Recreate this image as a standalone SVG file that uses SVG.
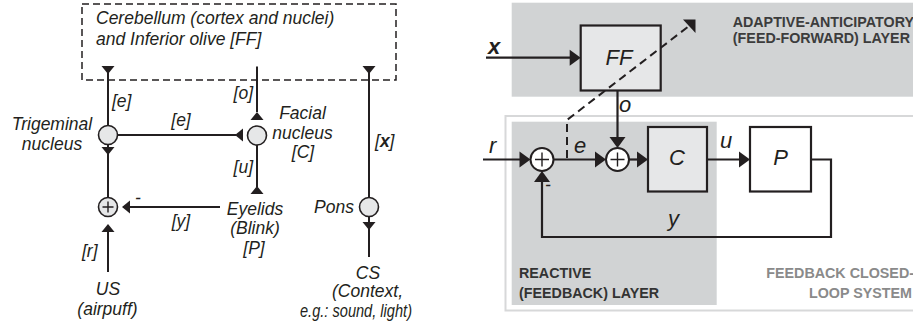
<svg xmlns="http://www.w3.org/2000/svg" width="913" height="328" viewBox="0 0 913 328">
<style>
.ln{stroke:#231f20;stroke-width:2;fill:none}
.ln2{stroke:#231f20;stroke-width:2.2;fill:none}
.dash{stroke:#231f20;stroke-width:2;fill:none;stroke-dasharray:8 5}
.lt{font-family:"Liberation Sans",Arial,sans-serif;font-style:italic;font-size:17.5px;fill:#231f20}
.rt{font-family:"Liberation Sans",Arial,sans-serif;font-style:italic;font-size:22px;fill:#231f20}
.bl{font-family:"Liberation Sans",Arial,sans-serif;font-weight:bold;font-size:14.3px}
.mid{text-anchor:middle}
.end{text-anchor:end}
.nc{fill:#e6e7e8;stroke:#231f20;stroke-width:1.6}
.sc{fill:#ffffff;stroke:#231f20;stroke-width:2}
.pl{stroke:#231f20;stroke-width:1.4;fill:none}
.tri{fill:#231f20}
.box{stroke:#231f20;stroke-width:2.2}
.lay{fill:#d1d3d4}
</style>
<defs>
<path id="a1" d="M0,0 L-8,-6.5 L-8,6.5 Z"/>
<path id="a2" d="M0,0 L-11,-8 L-11,8 Z"/>
</defs>

<!-- LEFT DIAGRAM -->
<g id="cerebellum">
<rect x="82" y="4" width="314" height="76" fill="none" stroke="#231f20" stroke-width="1.5" stroke-dasharray="7 4"/>
<text class="lt" x="96" y="24">Cerebellum (cortex and nuclei)</text>
<text class="lt" x="96" y="44.5">and Inferior olive [FF]</text>
</g>
<g id="trigeminal">
<circle class="nc" cx="108" cy="135" r="9.5"/>
<text class="lt mid" x="52" y="129.5">Trigeminal</text>
<text class="lt mid" x="52" y="150">nucleus</text>
</g>
<g id="facial">
<circle class="nc" cx="257" cy="135.5" r="9.5"/>
<text class="lt mid" x="302.5" y="119">Facial</text>
<text class="lt mid" x="302.5" y="139">nucleus</text>
<text class="lt mid" x="303" y="157.5">[C]</text>
</g>
<g id="sum-left">
<circle class="nc" cx="108" cy="207" r="9.5"/>
<path class="pl" d="M102.5,207 H113.5 M108,201.5 V212.5"/>
</g>
<g id="eyelids">
<text class="lt mid" x="255" y="215">Eyelids</text>
<text class="lt mid" x="255" y="233.5">(Blink)</text>
<text class="lt mid" x="254" y="253.5">[P]</text>
</g>
<g id="pons">
<circle class="nc" cx="369" cy="207" r="9.5"/>
<text class="lt" x="314" y="213">Pons</text>
</g>
<g id="us">
<text class="lt mid" x="108" y="295">US</text>
<text class="lt mid" x="107.5" y="315">(airpuff)</text>
</g>
<g id="cs">
<text class="lt mid" x="368" y="278.5">CS</text>
<text class="lt mid" x="367.5" y="297">(Context,</text>
<text class="lt" x="300" y="316.5" textLength="112" lengthAdjust="spacingAndGlyphs">e.g.: sound, light)</text>
</g>

<g id="connectors-left">
<path class="ln" d="M108,66 V125.5"/>
<use href="#a1" class="tri" transform="translate(108,74) rotate(90)"/>
<text class="lt" x="112" y="107">[e]</text>
<path class="ln" d="M108,144.5 V197.5"/>
<use href="#a1" class="tri" transform="translate(108,155) rotate(90)"/>
<path class="ln" d="M108,232 V272"/>
<use href="#a1" class="tri" transform="translate(108,224) rotate(-90)"/>
<text class="lt" x="82" y="257">[r]</text>
<path class="ln" d="M117.5,135 H236"/>
<use href="#a1" class="tri" transform="translate(235,135) rotate(180)"/>
<text class="lt mid" x="181" y="126">[e]</text>
<path class="ln" d="M257,66.5 V112"/>
<use href="#a1" class="tri" transform="translate(257,112) rotate(-90)"/>
<text class="lt end" x="253" y="99">[o]</text>
<path class="ln" d="M257,145 V187"/>
<use href="#a1" class="tri" transform="translate(257,186) rotate(-90)"/>
<text class="lt end" x="253" y="173">[u]</text>
<path class="ln" d="M220,207 H123"/>
<use href="#a1" class="tri" transform="translate(122,207) rotate(180)"/>
<text class="lt" x="135" y="204">-</text>
<text class="lt mid" x="181" y="227">[y]</text>
<path class="ln" d="M369,66 V197.5"/>
<use href="#a1" class="tri" transform="translate(369,74) rotate(90)"/>
<text class="lt" x="375" y="147">[<tspan font-weight="bold">x</tspan>]</text>
<path class="ln" d="M369,216.5 V257"/>
<use href="#a1" class="tri" transform="translate(369,230) rotate(90)"/>
</g>

<!-- RIGHT DIAGRAM -->
<g id="adaptive-layer">
<rect class="lay" x="511.7" y="2.7" width="402" height="94"/>
<text class="bl end" x="914" y="27" fill="#3c3c3c">ADAPTIVE-ANTICIPATORY</text>
<text class="bl end" x="910" y="43" fill="#3c3c3c">(FEED-FORWARD) LAYER</text>
</g>
<g id="feedback-system">
<rect x="505.5" y="116" width="420" height="194.5" fill="none" stroke="#d7d8d9" stroke-width="2"/>
<text class="bl end" x="914" y="277.5" fill="#8a8a8a">FEEDBACK CLOSED-</text>
<text class="bl end" x="912" y="298" fill="#8a8a8a">LOOP SYSTEM</text>
</g>
<g id="reactive-layer">
<rect class="lay" x="511.7" y="121.7" width="205" height="183.3"/>
<text class="bl" x="519" y="277.5" fill="#333333">REACTIVE</text>
<text class="bl" x="519" y="298" fill="#333333">(FEEDBACK) LAYER</text>
</g>
<g id="FF">
<rect class="box" x="580.7" y="25.5" width="80" height="65" fill="#e6e7e8"/>
<text class="rt mid" x="619" y="65" font-size="23">FF</text>
</g>
<g id="sum1">
<circle class="sc" cx="542" cy="159.5" r="11.5"/>
<path class="pl" d="M535,159.5 H549 M542,152.5 V166.5"/>
</g>
<g id="sum2">
<circle class="sc" cx="617.5" cy="159.5" r="11.5"/>
<path class="pl" d="M610.5,159.5 H624.5 M617.5,152.5 V166.5"/>
</g>
<g id="C">
<rect class="box" x="648" y="127" width="59" height="64.5" fill="#e6e7e8"/>
<text class="rt mid" x="677" y="165">C</text>
</g>
<g id="P">
<rect class="box" x="750" y="127" width="61" height="64.5" fill="#ffffff"/>
<text class="rt mid" x="780.5" y="165">P</text>
</g>

<g id="connectors-right">
<path class="ln2" d="M486,57.7 H570"/>
<use href="#a2" class="tri" transform="translate(580.7,57.7)"/>
<text class="rt" x="488" y="54" font-weight="bold">x</text>
<path class="ln2" d="M617.5,90.7 V138"/>
<use href="#a2" class="tri" transform="translate(617.5,148) rotate(90)"/>
<text class="rt" x="619" y="112">o</text>
<path class="ln2" d="M483,159.5 H520"/>
<use href="#a2" class="tri" transform="translate(530.5,159.5)"/>
<text class="rt" x="489" y="153">r</text>
<path class="ln2" d="M553.5,159.5 H596"/>
<use href="#a2" class="tri" transform="translate(606,159.5)"/>
<text class="rt" x="574" y="153">e</text>
<path class="ln2" d="M629,159.5 H638"/>
<use href="#a2" class="tri" transform="translate(648,159.5)"/>
<path class="ln2" d="M707,159.5 H740"/>
<use href="#a2" class="tri" transform="translate(750,159.5)"/>
<text class="rt" x="720" y="148">u</text>
<path class="ln2" d="M811,159.5 H831 V237 H542 V181"/>
<use href="#a2" class="tri" transform="translate(542,171) rotate(-90)"/>
<text class="rt" x="668" y="226">y</text>
<text class="lt" x="545" y="191" font-style="normal">-</text>
<path class="dash" d="M567,158 V120 L689,26"/>
<polygon class="tri" points="683,19.5 695.5,19.5 695.5,33"/>
</g>
</svg>
